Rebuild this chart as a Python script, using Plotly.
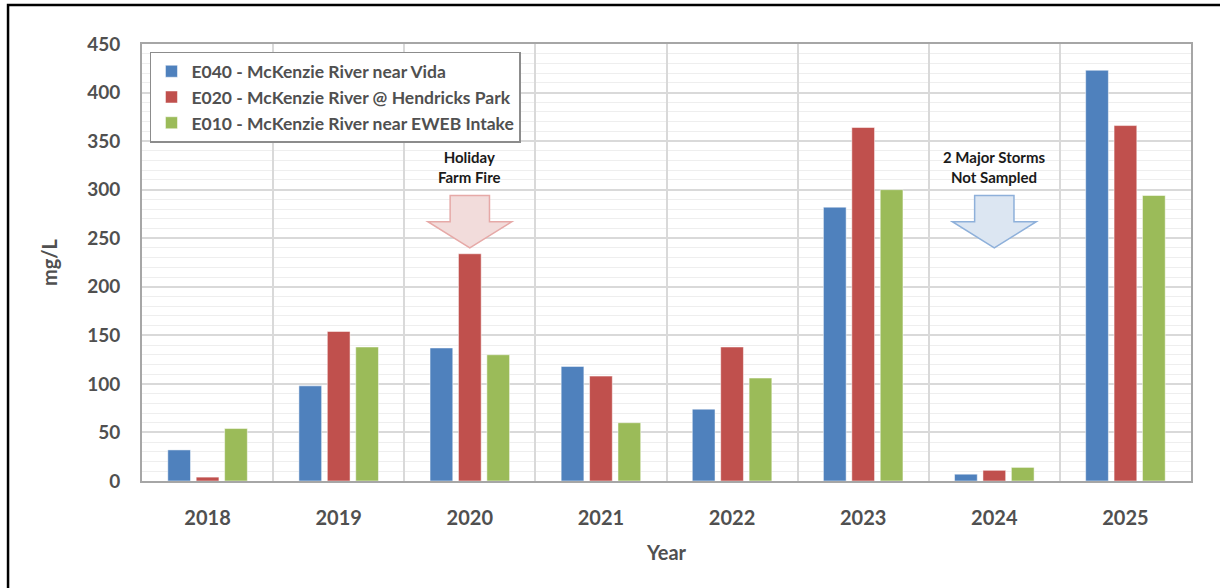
import plotly.graph_objects as go

years = ["2018", "2019", "2020", "2021", "2022", "2023", "2024", "2025"]
series_names = [
    "E040 - McKenzie River near Vida",
    "E020 - McKenzie River @ Hendricks Park",
    "E010 - McKenzie River near EWEB Intake",
]
e040 = [32, 98, 137, 118, 74, 282, 7, 423]
e020 = [4, 154, 234, 108, 138, 364, 11, 366]
e010 = [54, 138, 130, 60, 106, 300, 14, 294]
colors = ["#4F81BD", "#C0504D", "#9BBB59"]

FONT = "Lato"
TXT = "#505050"

fig = go.Figure()
for name, vals, col in zip(series_names, [e040, e020, e010], colors):
    fig.add_trace(go.Bar(
        x=years, y=vals, name=name,
        marker=dict(color=col, line=dict(color="white", width=0.5)),
    ))

# Down arrows drawn in category units around a year's centre
def down_arrow(idx, fill, edge, top=294, neck=267, tip=240, shaft=0.15, head=0.32):
    c = idx
    path = (f"M {c-shaft},{top} L {c+shaft},{top} L {c+shaft},{neck} "
            f"L {c+head},{neck} L {c},{tip} L {c-head},{neck} "
            f"L {c-shaft},{neck} Z")
    return dict(type="path", path=path, xref="x", yref="y",
                fillcolor=fill, line=dict(color=edge, width=1.5), layer="above")

fig.add_shape(**down_arrow(years.index("2020"), "#F2DCDB", "#E6A9A7"))
fig.add_shape(**down_arrow(years.index("2024"), "#DCE6F2", "#8EB0DA"))

for yr, txt in [("2020", "Holiday<br>Farm Fire"), ("2024", "2 Major Storms<br>Not Sampled")]:
    fig.add_annotation(x=years.index(yr), y=302, xref="x", yref="y",
                       text=txt, showarrow=False, yanchor="bottom",
                       font=dict(family=FONT, size=15, color="#1a1a1a", weight="bold"))

# Outer frame around the whole graphic
fig.add_shape(type="rect", xref="paper", yref="paper",
              x0=-0.1277, x1=1.2, y0=-0.5, y1=1.089,
              line=dict(color="black", width=2.5), fillcolor="rgba(0,0,0,0)")

fig.update_layout(
    width=1220, height=588,
    margin=dict(l=142, r=29, t=44, b=107),
    paper_bgcolor="white", plot_bgcolor="white",
    barmode="group", bargap=0.35, bargroupgap=0.2,
    font=dict(family=FONT, color=TXT),
    legend=dict(
        x=0.0076, y=0.982, xanchor="left", yanchor="top",
        bgcolor="white", bordercolor="#8C8C8C", borderwidth=1.5,
        font=dict(family=FONT, size=17.5, color=TXT, weight="bold"),
        tracegroupgap=0, itemwidth=30,
    ),
    xaxis=dict(
        type="category", tickson="boundaries",
        showgrid=True, gridcolor="#D9D9D9", gridwidth=1.5,
        showline=True, linecolor="#A6A6A6", linewidth=2, mirror=True,
        ticks="", ticklabelstandoff=18,
        tickfont=dict(family=FONT, size=20, color=TXT, weight="bold"),
        title=dict(text="Year", font=dict(family=FONT, size=20, color=TXT, weight="bold"),
                   standoff=18),
    ),
    yaxis=dict(
        range=[0, 450], dtick=50,
        showgrid=True, gridcolor="#D9D9D9", gridwidth=1.5,
        minor=dict(dtick=10, showgrid=True, gridcolor="#EEEEEE", gridwidth=1),
        showline=True, linecolor="#A6A6A6", linewidth=2, mirror=True,
        zeroline=False, ticks="", ticklabelstandoff=16,
        tickfont=dict(family=FONT, size=19, color=TXT, weight="bold"),
        title=dict(text="mg/L", font=dict(family=FONT, size=20, color=TXT, weight="bold"),
                   standoff=24),
    ),
)

fig.write_html("out.html")
